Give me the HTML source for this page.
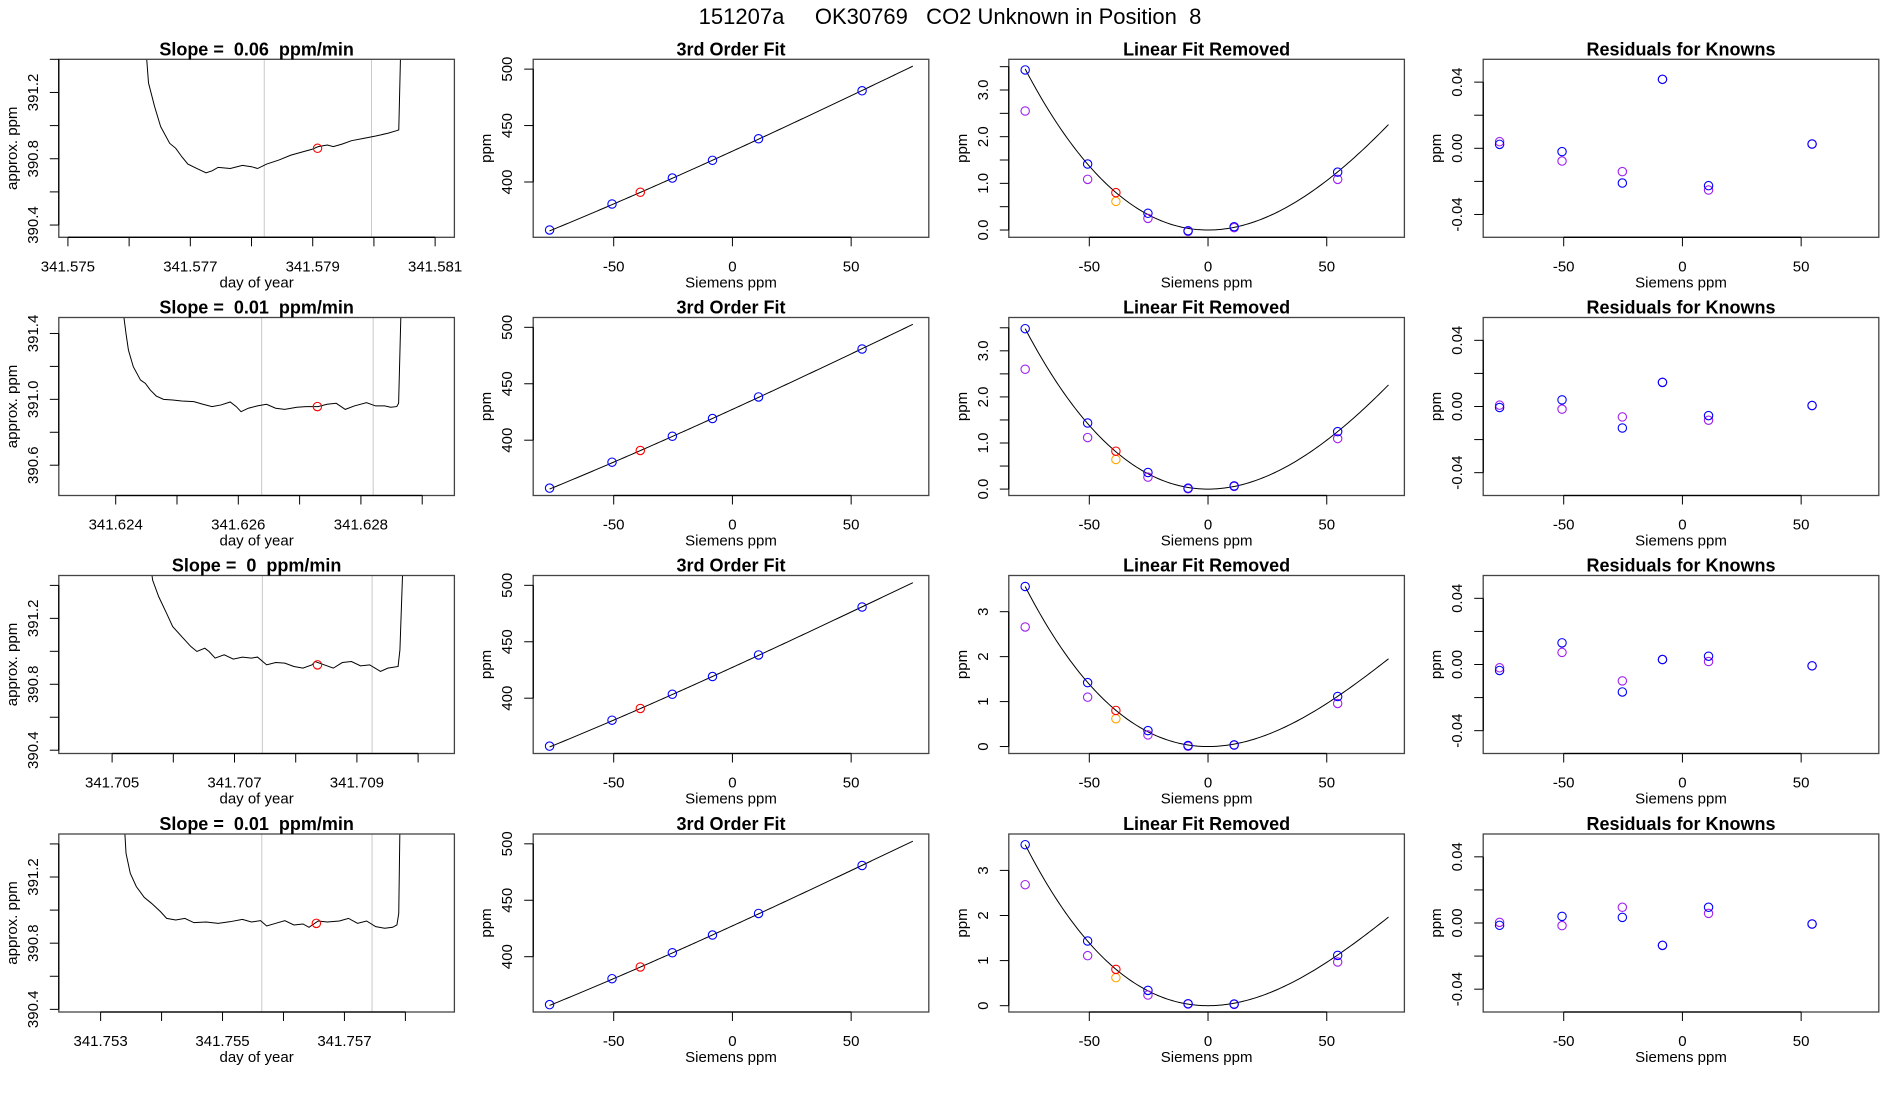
<!DOCTYPE html>
<html><head><meta charset="utf-8"><style>
html,body{margin:0;padding:0;background:#fff;}
svg{display:block;font-family:"Liberation Sans",Arial,sans-serif;}
</style></head><body>
<svg id="chart" width="1900" height="1100" viewBox="0 0 1900 1100" xmlns="http://www.w3.org/2000/svg">
<rect x="0" y="0" width="1900" height="1100" fill="#fff"/>
<text x="950" y="24" text-anchor="middle" font-size="22" style="white-space:pre" xml:space="preserve">151207a     OK30769   CO2 Unknown in Position  8</text>
</svg>
<script>
// ---- data ----
const slopeLabels = ["0.06", "0.01", "0", "0.01"];
const traceT1 = [341.576267,341.576317,341.576416,341.576515,341.576663,341.576762,341.576861,341.576960,341.577109,341.577257,341.577356,341.577455,341.577653,341.577851,341.578000,341.578099,341.578248,341.578446,341.578644,341.578842,341.578990,341.579089,341.579238,341.579337,341.579485,341.579634,341.579832,341.580030,341.580228,341.580376,341.580406,341.580446];
const traceV1 = [391.499,391.257,391.115,390.994,390.893,390.863,390.812,390.768,390.741,390.715,390.727,390.748,390.741,390.760,390.752,390.741,390.768,390.792,390.822,390.842,390.857,390.873,390.883,390.873,390.889,390.909,390.923,390.937,390.954,390.970,390.974,391.6];
const traceT2 = [341.624119,341.624168,341.624208,341.624287,341.624405,341.624484,341.624563,341.624662,341.624781,341.624929,341.625077,341.625275,341.625423,341.625571,341.625719,341.625868,341.625966,341.626045,341.626164,341.626312,341.626460,341.626609,341.626757,341.626955,341.627103,341.627300,341.627449,341.627597,341.627745,341.627893,341.628091,341.628239,341.628387,341.628486,341.628585,341.628615,341.628654];
const traceV2 = [391.541,391.4,391.299,391.198,391.117,391.097,391.057,391.020,391.0,390.996,390.990,390.986,390.970,390.956,390.966,390.984,390.956,390.925,390.946,390.960,390.970,390.946,390.939,390.952,390.956,390.956,390.970,390.976,390.939,390.960,390.980,390.960,390.960,390.952,390.956,390.976,391.541];
const traceT3 = [341.705624,341.705663,341.705762,341.705891,341.705990,341.706139,341.706287,341.706386,341.706515,341.706584,341.706683,341.706832,341.706980,341.707129,341.707277,341.707376,341.707525,341.707673,341.707822,341.707970,341.708119,341.708267,341.708317,341.708465,341.708614,341.708762,341.708911,341.709059,341.709208,341.709386,341.709505,341.709673,341.709703,341.709752];
const traceV3 = [391.532,391.431,391.331,391.230,391.150,391.089,391.029,390.999,391.019,390.999,390.959,390.979,390.953,390.965,390.959,390.965,390.918,390.932,390.928,390.908,390.898,390.918,390.938,390.918,390.898,390.932,390.938,390.912,390.918,390.878,390.898,390.908,391.009,391.532];
const traceT4 = [341.753388,341.753417,341.753487,341.753586,341.753716,341.753835,341.753984,341.754083,341.754233,341.754382,341.754531,341.754730,341.754928,341.755127,341.755326,341.755475,341.755624,341.755724,341.755873,341.756022,341.756171,341.756320,341.756419,341.756569,341.756718,341.756917,341.757066,341.757215,341.757364,341.757513,341.757662,341.757791,341.757861,341.757891,341.757911];
const traceV4 = [391.525,391.343,391.222,391.142,391.077,391.041,390.990,390.950,390.940,390.950,390.924,390.928,390.920,390.930,390.944,390.928,390.936,390.904,390.920,390.936,390.910,390.916,390.896,390.934,390.928,390.934,390.950,390.920,390.934,390.900,390.890,390.896,390.910,390.980,391.525];
const unknownT = [341.579079, 341.627290, 341.708356, 341.756539];
const unknownV = [390.863, 390.956, 390.918, 390.920];
const windowStart = [341.578208, 341.626381, 341.707455, 341.755644];
const windowEnd = [341.579960, 341.628200, 341.709248, 341.757453];
const timeTicks1 = [341.575,341.576,341.577,341.578,341.579,341.580,341.581];
const timeTicks2 = [341.624,341.625,341.626,341.627,341.628,341.629];
const timeTicks3 = [341.705,341.706,341.707,341.708,341.709,341.710];
const timeTicks4 = [341.753,341.754,341.755,341.756,341.757,341.758];

const knownX = [-77, -50.7, -25.3, -8.4, 11, 54.6];
const knownPpm = [357.5, 380.5, 403.5, 419.2, 438.3, 480.8];
const unknownX = -38.8;
const unknownPpm = 390.9;
const fitA = [427.3, 427.3, 427.3, 427.3];
const fitB = [0.962, 0.962, 0.962, 0.962];
const fitC2 = [4.859e-4, 4.885e-4, 4.683e-4, 4.703e-4];
const fitC3 = [-1.246e-6, -1.279e-6, -1.716e-6, -1.712e-6];

const linBlue1 = [3.43, 1.414, 0.358, -0.015, 0.071, 1.24];
const linPurple1 = [2.55, 1.086, 0.25, -0.03, 0.05, 1.086];
const linBlue2 = [3.48, 1.434, 0.36, 0.02, 0.07, 1.247];
const linPurple2 = [2.60, 1.118, 0.26, 0.007, 0.058, 1.096];
const linBlue3 = [3.56, 1.422, 0.354, 0.022, 0.037, 1.113];
const linPurple3 = [2.66, 1.098, 0.258, 0.007, 0.03, 0.958];
const linBlue4 = [3.57, 1.434, 0.34, 0.044, 0.037, 1.116];
const linPurple4 = [2.683, 1.109, 0.236, 0.037, 0.03, 0.968];
const linRed = [0.80, 0.822, 0.803, 0.806];
const linOrange = [0.613, 0.642, 0.619, 0.621];

const resBlue1 = [0.0024, -0.002, -0.021, 0.0417, -0.0226, 0.0026];
const resPurple1 = [0.004, -0.0077, -0.0141, 0.0417, -0.0252, 0.0026];
const resBlue2 = [-0.0006, 0.004, -0.013, 0.0146, -0.0055, 0.0006];
const resPurple2 = [0.0008, -0.0016, -0.0063, 0.0146, -0.0083, 0.0006];
const resBlue3 = [-0.0036, 0.0131, -0.0166, 0.003, 0.005, -0.0008];
const resPurple3 = [-0.002, 0.0073, -0.0099, 0.003, 0.0018, -0.0008];
const resBlue4 = [-0.0014, 0.004, 0.0034, -0.0135, 0.0095, -0.0006];
const resPurple4 = [0.0004, -0.0016, 0.0095, -0.0135, 0.0058, -0.0006];

// ---- layout ----
const NS = "http://www.w3.org/2000/svg";
const svg = document.getElementById("chart");
const rowTop = [59.3, 317.5, 575.5, 834];
const colLeft = [58.8, 533.2, 1008.8, 1483.2];
const BW = 395.6, BH = 178;
const traceT = [traceT1, traceT2, traceT3, traceT4];
const traceV = [traceV1, traceV2, traceV3, traceV4];
const timeTicks = [timeTicks1, timeTicks2, timeTicks3, timeTicks4];
const timeDom = [[341.574851,341.581315],[341.623072,341.629525],[341.704129,341.710593],[341.752314,341.758804]];
const ppmDom = [[390.326,391.4],[390.416,391.497],[390.38,391.46],[390.384,391.46]];
const linDom = [[-0.156,3.658],[-0.139,3.723],[-0.155,3.805],[-0.14,3.807]];
const linBlue = [linBlue1, linBlue2, linBlue3, linBlue4];
const linPurple = [linPurple1, linPurple2, linPurple3, linPurple4];
const resBlue = [resBlue1, resBlue2, resBlue3, resBlue4];
const resPurple = [resPurple1, resPurple2, resPurple3, resPurple4];

function mk(tag, attrs, parent) {
  const e = document.createElementNS(NS, tag);
  for (const k in attrs) e.setAttribute(k, attrs[k]);
  (parent || svg).appendChild(e);
  return e;
}
function makePanel(c, r, x0, x1, y0, y1) {
  const p = {L: colLeft[c], T: rowTop[r], W: BW, H: BH, x0, x1, y0, y1};
  p.sx = v => p.L + (v - p.x0) / (p.x1 - p.x0) * p.W;
  p.sy = v => p.T + p.H - (v - p.y0) / (p.y1 - p.y0) * p.H;
  const g = mk("g", {});
  
  
  p.g = g;
  const cid = "clip" + r + "_" + c;
  const cp = mk("clipPath", {id: cid}, g);
  mk("rect", {x: p.L, y: p.T, width: p.W, height: p.H}, cp);
  p.clip = "url(#" + cid + ")";
  return p;
}
function frame(p, title, xt, yt, xTicks, xLabels, yTicks, yLabels) {
  const box = mk("rect", {x: p.L, y: p.T, width: p.W, height: p.H, fill: "none", stroke: "#444", "stroke-width": 1.3}, p.g);
  
  
  const t = mk("text", {x: p.L + p.W / 2, y: p.T - 4, "text-anchor": "middle", "font-size": 18, "font-weight": "bold", style: "white-space:pre"}, p.g);
  t.setAttributeNS("http://www.w3.org/XML/1998/namespace", "xml:space", "preserve");
  t.textContent = title;
  
  
  const B = p.T + p.H;
  const xa = mk("line", {x1: p.sx(xTicks[0]), x2: p.sx(xTicks[xTicks.length - 1]), y1: B, y2: B, stroke: "#000", "stroke-width": 1.3}, p.g);
  
  
  xTicks.forEach((v, i) => {
    const X = p.sx(v);
    const tk = mk("line", {x1: X, x2: X, y1: B, y2: B + 9, stroke: "#000", "stroke-width": 1}, p.g);
    
    
    if (xLabels[i]) {
      const l = mk("text", {x: X, y: B + 34, "text-anchor": "middle", "font-size": 15}, p.g);
      l.textContent = xLabels[i];
      
      
    }
  });
  const xl = mk("text", {x: p.L + p.W / 2, y: B + 50, "text-anchor": "middle", "font-size": 15}, p.g);
  xl.textContent = xt;
  
  
  const ya = mk("line", {x1: p.L, x2: p.L, y1: p.sy(yTicks[0]), y2: p.sy(yTicks[yTicks.length - 1]), stroke: "#000", "stroke-width": 1.3}, p.g);
  
  
  yTicks.forEach((v, i) => {
    const Y = p.sy(v);
    const tk = mk("line", {x1: p.L - 9, x2: p.L, y1: Y, y2: Y, stroke: "#000", "stroke-width": 1}, p.g);
    
    
    if (yLabels[i]) {
      const l = mk("text", {x: 0, y: 0, "text-anchor": "middle", "font-size": 15, transform: "translate(" + (p.L - 21) + "," + Y + ") rotate(-90)"}, p.g);
      l.textContent = yLabels[i];
      
      
    }
  });
  const yl = mk("text", {x: 0, y: 0, "text-anchor": "middle", "font-size": 15, transform: "translate(" + (p.L - 42) + "," + (p.T + p.H / 2) + ") rotate(-90)"}, p.g);
  yl.textContent = yt;
  
  
}
function circ(p, x, y, color, name) {
  const c = mk("circle", {cx: p.sx(x), cy: p.sy(y), r: 4.2, fill: "none", stroke: color, "stroke-width": 1.1}, p.g);
  
  
}
const sieTicks = [-50, 0, 50], sieLabels = ["-50", "0", "50"];
const XD0 = -83.9, XD1 = 82.7;

for (let r = 0; r < 4; r++) {
  // column 1: trace
  const p1 = makePanel(0, r, timeDom[r][0], timeDom[r][1], ppmDom[r][0], ppmDom[r][1]);
  const yt1 = [], yl1 = [];
  for (let v = 390.4; v <= 391.41; v += 0.2) {
    if (v < ppmDom[r][0] || v > ppmDom[r][1]) continue;
    yt1.push(v);
    const lab = r === 1 ? [390.6, 391.0, 391.4] : [390.4, 390.8, 391.2];
    yl1.push(lab.some(q => Math.abs(q - v) < 1e-6) ? v.toFixed(1) : "");
  }
  const xl1 = timeTicks[r].map((v, i) => i % 2 === 0 ? v.toFixed(3) : "");
  [windowStart[r], windowEnd[r]].forEach(v => {
    const gl = mk("line", {x1: p1.sx(v), x2: p1.sx(v), y1: p1.T, y2: p1.T + p1.H, stroke: "#c8c8c8", "stroke-width": 1}, p1.g);
    
    
  });
  const pts = traceT[r].map((t, i) => p1.sx(t).toFixed(2) + "," + p1.sy(traceV[r][i]).toFixed(2)).join(" ");
  const tr = mk("polyline", {points: pts, fill: "none", stroke: "#000", "stroke-width": 1, "clip-path": p1.clip}, p1.g);
  
  
  circ(p1, unknownT[r], unknownV[r], "#ff0000", "unknown-sample-point");
  frame(p1, "Slope =  " + slopeLabels[r] + "  ppm/min", "day of year", "approx. ppm", timeTicks[r], xl1, yt1, yl1);

  // column 2: 3rd order fit
  const p2 = makePanel(1, r, XD0, XD1, 351, 508.7);
  const f = x => fitA[r] + fitB[r] * x + fitC2[r] * x * x + fitC3[r] * x * x * x;
  let cp = [];
  for (let x = -77; x <= 76.2; x += 1) cp.push(p2.sx(x).toFixed(2) + "," + p2.sy(f(x)).toFixed(2));
  const fl = mk("polyline", {points: cp.join(" "), fill: "none", stroke: "#000", "stroke-width": 1}, p2.g);
  
  
  knownX.forEach((x, i) => circ(p2, x, knownPpm[i], "#0000ff", "known-standard-point"));
  circ(p2, unknownX, unknownPpm, "#ff0000", "unknown-point");
  frame(p2, "3rd Order Fit", "Siemens ppm", "ppm", sieTicks, sieLabels, [400, 450, 500], ["400", "450", "500"]);

  // column 3: linear fit removed
  const p3 = makePanel(2, r, XD0, XD1, linDom[r][0], linDom[r][1]);
  const g3 = x => fitC2[r] * x * x + fitC3[r] * x * x * x;
  cp = [];
  for (let x = -77; x <= 76.2; x += 1) cp.push(p3.sx(x).toFixed(2) + "," + p3.sy(g3(x)).toFixed(2));
  const cl = mk("polyline", {points: cp.join(" "), fill: "none", stroke: "#000", "stroke-width": 1}, p3.g);
  
  
  knownX.forEach((x, i) => circ(p3, x, linPurple[r][i], "#a020f0", "purple-point"));
  knownX.forEach((x, i) => circ(p3, x, linBlue[r][i], "#0000ff", "blue-point"));
  circ(p3, unknownX, linOrange[r], "#ffa500", "orange-point");
  circ(p3, unknownX, linRed[r], "#ff0000", "red-point");
  let yt3, yl3;
  if (r < 2) { yt3 = [0, 0.5, 1, 1.5, 2, 2.5, 3, 3.5]; yl3 = ["0.0", "", "1.0", "", "2.0", "", "3.0", ""]; }
  else { yt3 = [0, 1, 2, 3]; yl3 = ["0", "1", "2", "3"]; }
  frame(p3, "Linear Fit Removed", "Siemens ppm", "ppm", sieTicks, sieLabels, yt3, yl3);

  // column 4: residuals
  const p4 = makePanel(3, r, XD0, XD1, -0.0538, 0.0538);
  knownX.forEach((x, i) => circ(p4, x, resPurple[r][i], "#a020f0", "purple-residual"));
  knownX.forEach((x, i) => circ(p4, x, resBlue[r][i], "#0000ff", "blue-residual"));
  frame(p4, "Residuals for Knowns", "Siemens ppm", "ppm", sieTicks, sieLabels, [-0.04, -0.02, 0, 0.02, 0.04], ["-0.04", "", "0.00", "", "0.04"]);
}
</script>
</body></html>
